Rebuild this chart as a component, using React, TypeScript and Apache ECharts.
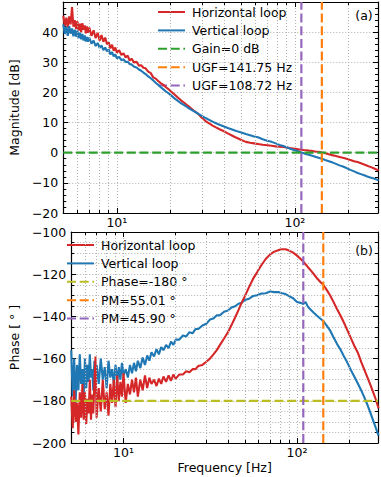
import React, { useEffect, useRef } from "react";
import * as echarts from "echarts";

// ---------------- data ----------------
const freq = [
  5.0, 5.1, 5.2, 5.3, 5.4, 5.5, 5.6, 5.7, 5.8, 5.9,
  6.0, 6.1, 6.2, 6.3, 6.4, 6.5, 6.6, 6.7, 6.8, 6.9,
  7.0, 7.2, 7.4, 7.6, 7.8, 8.0, 8.2, 8.4, 8.6, 8.8,
  9.0, 9.2, 9.4, 9.6, 9.8, 10, 10.3, 10.6, 10.9, 11.2,
  11.5, 11.8, 12.1, 12.5, 12.9, 13.3, 13.7, 14.1, 14.5, 15,
  15.5, 16, 16.5, 17, 17.6, 18.2, 18.8, 19.4, 20, 21,
  22, 23, 24, 25, 26, 27, 28.5, 30, 31.5, 33,
  34.5, 36, 38, 40, 42, 44, 46, 48, 50, 53,
  56, 59, 62, 66, 70, 74, 78, 82, 86, 90,
  95, 100, 105, 108.72, 112, 116, 120, 125, 130, 136,
  141.75, 148, 155, 162, 170, 178, 186, 195, 205, 215,
  225, 235, 245, 255, 265, 275, 285, 295,
];

const magHorizontal = [
  45.5, 42.0, 44.8, 41.5, 45.2, 42.6, 48.3, 41.8, 44.0, 41.0,
  43.6, 40.5, 42.8, 40.0, 43.0, 40.8, 42.2, 39.6, 41.9, 39.8,
  41.5, 38.8, 40.6, 38.0, 39.8, 37.2, 39.0, 36.8, 38.2, 36.0,
  36.6, 34.6, 35.8, 33.8, 34.9, 33.2, 34.0, 32.4, 33.0, 31.6,
  32.2, 30.6, 31.2, 29.9, 30.2, 28.9, 29.0, 28.2, 28.0, 26.9,
  26.4, 25.0, 24.6, 23.9, 23.1, 22.6, 21.8, 21.2, 20.5, 19.4,
  18.3, 17.3, 16.5, 15.6, 14.8, 14.0, 13.0, 11.6, 10.5, 9.7,
  9.0, 8.4, 7.7, 7.1, 6.4, 5.8, 5.2, 4.7, 4.2, 3.6,
  3.3, 3.1, 2.9, 2.65, 2.5, 2.3, 2.1, 2.0, 1.9, 1.7,
  1.5, 1.3, 1.1, 1.0, 0.9, 0.8, 0.7, 0.6, 0.4, 0.3,
  0.1, -0.2, -0.5, -0.8, -1.1, -1.4, -1.7, -2.0, -2.4, -2.8,
  -3.1, -3.5, -3.9, -4.3, -4.7, -5.1, -5.5, -5.9,
];

const magVertical = [
  42.6, 39.4, 41.8, 38.8, 42.0, 39.5, 41.2, 38.6, 40.8, 38.5,
  40.5, 38.0, 39.8, 37.6, 39.4, 37.2, 38.9, 36.9, 38.4, 36.8,
  38.2, 36.2, 37.2, 35.4, 36.4, 34.8, 35.6, 34.0, 34.9, 33.6,
  34.3, 32.6, 33.4, 32.0, 32.6, 31.3, 31.8, 30.7, 31.0, 30.1,
  30.2, 29.4, 29.3, 28.5, 28.3, 27.6, 27.2, 26.6, 26.1, 25.3,
  24.7, 24.0, 23.2, 22.6, 21.8, 21.1, 20.4, 19.8, 19.2, 18.1,
  17.2, 16.4, 15.7, 15.0, 14.4, 13.8, 13.0, 12.2, 11.5, 10.9,
  10.3, 9.8, 9.2, 8.7, 8.2, 7.8, 7.4, 7.0, 6.7, 6.2,
  5.8, 5.4, 5.1, 4.5, 4.0, 3.6, 3.1, 2.6, 2.2, 1.8,
  1.2, 0.8, 0.4, 0.1, -0.2, -0.5, -0.7, -1.0, -1.3, -1.7,
  -2.0, -2.4, -2.8, -3.2, -3.7, -4.2, -4.6, -5.1, -5.7, -6.2,
  -6.7, -7.1, -7.5, -7.9, -8.2, -8.5, -8.8, -9.1,
];

const phaseHorizontal = [
  -178, -193, -175, -190, -181, -196, -176, -188, -172, -189,
  -176, -191, -179, -186, -170, -189, -177, -186, -171, -159,
  -188, -174, -185, -170, -184, -176, -187, -172, -181, -170,
  -183, -168, -180, -171, -178, -167, -181, -172, -177, -170,
  -176, -169, -178, -170, -175, -168, -174, -169, -172, -170,
  -173, -169.5, -172, -168.5, -171, -168, -170.5, -167.5, -169.5, -167.5,
  -167.5, -166, -166.5, -165, -165, -163.5, -163, -161.5, -160, -158,
  -156, -153.5, -150.5, -147.5, -144, -140.5, -137, -133.5, -130.5, -126,
  -122, -119, -116, -112.8, -110.6, -109.3, -108.6, -108.2, -108.2, -108.8,
  -109.8, -111.2, -112.8, -114, -115.3, -116.8, -118.2, -120, -121.8, -123.6,
  -125, -127.3, -130, -133, -136.5, -139.6, -142.8, -146.5, -150.5, -154.3,
  -157.5, -161.8, -165.5, -169, -172.5, -176, -179.5, -183.5,
];

const phaseVertical = [
  -156, -178, -160, -181, -163, -175, -158, -172, -165, -177,
  -160, -174, -163, -171, -158, -169, -165, -175, -161, -170,
  -163, -172, -160, -170, -164, -174, -161, -169, -165, -172,
  -163, -171, -164, -170, -162, -168, -165, -169, -163, -167,
  -162, -166, -161, -164.5, -159.5, -163, -158.5, -161, -157, -159,
  -155.5, -158, -154.5, -156, -153.5, -155, -152, -153.5, -151, -151,
  -149, -149.5, -147.5, -148, -146, -146, -144.3, -143.5, -141.5, -141,
  -139.5, -139.4, -137.8, -137.2, -135.8, -135.2, -134, -133.5, -132.2, -131.6,
  -130.3, -130, -129.2, -129, -128.2, -128.5, -128.4, -129, -129.4, -130.4,
  -131.4, -133.2, -133.6, -134.1, -133.2, -135.6, -136.8, -138.3, -139.6, -141,
  -142.2, -144.3, -146.6, -149.8, -153, -155.7, -158.8, -161.9, -165.6, -168.8,
  -172, -175.2, -178.6, -182, -185.7, -189.4, -193, -196.5,
];

const minorFreqTicks = [6, 7, 8, 9, 20, 30, 40, 50, 60, 70, 80, 90, 200];
const freqRange = [5, 293];
const magRange = [-20, 50];
const phaseRange = [-200, -100];
const magInterval = 10;
const phaseInterval = 20;
const gainRef = 0;
const phaseRef = -180;
const ugfHorizontal = 141.75;
const ugfVertical = 108.72;

const topLegend = ["Horizontal loop", "Vertical loop", "Gain=0 dB", "UGF=141.75 Hz", "UGF=108.72 Hz"];
const bottomLegend = ["Horizontal loop", "Vertical loop", "Phase=-180 °", "PM=55.01 °", "PM=45.90 °"];

// ---------------- styles ----------------
const FONT = "DejaVu Sans";
const FS = 12.5;
const RED = "#d62728";
const BLUE = "#1f77b4";
const GREEN = "#2ca02c";
const ORANGE = "#ff7f0e";
const PURPLE = "#9467bd";
const OLIVE = "#bcbd22";
const GRID = "#b0b0b0";
const DASH = [9, 3.7];
const GRID_DASH = [1, 2];

const fmtY = (v: number) => String(v).replace("-", "\u2212");
const fmtX = (v: number) => {
  const l = Math.log10(v);
  const e = Math.round(l);
  if (Math.abs(l - e) < 1e-6) {
    if (e === 1) return "10\u00b9";
    if (e === 2) return "10\u00b2";
  }
  return "";
};

const zip = (ys: number[]) => freq.map((f, i) => [f, ys[i]]);

function xAxisBottom(gridIndex: number, name: string) {
  return {
    type: "log",
    logBase: 10,
    gridIndex,
    position: "bottom",
    min: freqRange[0],
    max: freqRange[1],
    z: 3,
    axisLine: { show: true, onZero: false, lineStyle: { color: "#000", width: 1.2 } },
    axisTick: { show: true, inside: true, length: 5, lineStyle: { color: "#000", width: 1 } },
    axisLabel: { show: true, margin: 3, formatter: fmtX, color: "#000", fontFamily: FONT, fontSize: FS },
    splitLine: { show: true, showMinLine: false, showMaxLine: false, lineStyle: { color: GRID, width: 1, type: GRID_DASH } },
    minorTick: { show: false },
    minorSplitLine: { show: false },
    name,
    nameLocation: "middle",
    nameGap: 18,
    nameTextStyle: { color: "#000", fontFamily: FONT, fontSize: FS },
  };
}

function xAxisTop(gridIndex: number) {
  return {
    type: "log",
    logBase: 10,
    gridIndex,
    position: "top",
    min: freqRange[0],
    max: freqRange[1],
    z: 3,
    axisLine: { show: true, onZero: false, lineStyle: { color: "#000", width: 1.2 } },
    axisTick: { show: true, inside: true, length: 5, lineStyle: { color: "#000", width: 1 } },
    axisLabel: { show: false },
    splitLine: { show: false },
  };
}

function yAxisLeft(gridIndex: number, range: number[], interval: number, minorSplit: number, minorGrid: boolean, name: string) {
  return {
    type: "value",
    gridIndex,
    position: "left",
    min: range[0],
    max: range[1],
    interval,
    z: 3,
    axisLine: { show: true, onZero: false, lineStyle: { color: "#000", width: 1.2 } },
    axisTick: { show: true, inside: true, length: 5, lineStyle: { color: "#000", width: 1 } },
    minorTick: { show: true, splitNumber: minorSplit, length: 3, lineStyle: { color: "#000", width: 1 } },
    axisLabel: {
      show: true,
      margin: 5,
      formatter: fmtY,
      color: "#000",
      fontFamily: FONT,
      fontSize: FS,
      showMaxLabel: range[1] === -100,
    },
    splitLine: { show: true, showMinLine: false, showMaxLine: false, lineStyle: { color: GRID, width: 1, type: GRID_DASH } },
    minorSplitLine: { show: minorGrid, lineStyle: { color: GRID, width: 1, type: GRID_DASH } },
    name,
    nameLocation: "middle",
    nameGap: 26,
    nameRotate: 90,
    nameTextStyle: { color: "#000", fontFamily: FONT, fontSize: FS },
  };
}

function yAxisRight(gridIndex: number, range: number[], interval: number, minorSplit: number) {
  return {
    type: "value",
    gridIndex,
    position: "right",
    min: range[0],
    max: range[1],
    interval,
    z: 3,
    axisLine: { show: true, onZero: false, lineStyle: { color: "#000", width: 1.2 } },
    axisTick: { show: true, inside: true, length: 5, lineStyle: { color: "#000", width: 1 } },
    minorTick: { show: true, splitNumber: minorSplit, length: 3, lineStyle: { color: "#000", width: 1 } },
    axisLabel: { show: false },
    splitLine: { show: false },
  };
}

function curve(name: string, color: string, xi: number, yi: number, ys: number[]) {
  return {
    name,
    type: "line",
    xAxisIndex: xi,
    yAxisIndex: yi,
    data: zip(ys),
    symbol: "none",
    showSymbol: false,
    lineStyle: { color, width: 2.1 },
    itemStyle: { color, opacity: 0 },
    z: 4,
  };
}

function refLine(name: string, color: string, xi: number, yi: number, data: number[][]) {
  return {
    name,
    type: "line",
    xAxisIndex: xi,
    yAxisIndex: yi,
    data,
    symbol: "none",
    showSymbol: false,
    lineStyle: { color, width: 2.2, type: DASH },
    itemStyle: { color, opacity: 0 },
    z: 5,
  };
}

function minorLines(xi: number, yi: number, range: number[]) {
  const t = ((range[1] - range[0]) * 3) / 211;
  return [
    {
      type: "line",
      xAxisIndex: xi,
      yAxisIndex: yi,
      data: [[freqRange[0], range[0]]],
      symbol: "none",
      silent: true,
      lineStyle: { opacity: 0 },
      z: 1,
      markLine: {
        silent: true,
        symbol: ["none", "none"],
        label: { show: false },
        lineStyle: { color: GRID, width: 1, type: GRID_DASH },
        emphasis: { disabled: true },
        data: minorFreqTicks.map((f) => ({ xAxis: f })),
      },
    },
    {
      type: "line",
      xAxisIndex: xi,
      yAxisIndex: yi,
      data: [[freqRange[0], range[0]]],
      symbol: "none",
      silent: true,
      lineStyle: { opacity: 0 },
      z: 6,
      markLine: {
        silent: true,
        symbol: ["none", "none"],
        label: { show: false },
        lineStyle: { color: "#000", width: 1, type: "solid" },
        emphasis: { disabled: true },
        data: minorFreqTicks.flatMap((f) => [
          [{ coord: [f, range[0]] }, { coord: [f, range[0] + t] }],
          [{ coord: [f, range[1]] }, { coord: [f, range[1] - t] }],
        ]),
      },
    },
  ];
}

function legendCfg(data: string[], left: number, top: number) {
  return {
    data,
    left,
    top,
    orient: "vertical",
    itemWidth: 27,
    itemHeight: 14,
    itemGap: 4.4,
    selectedMode: false,
    padding: 0,
    itemStyle: { opacity: 0 },
    textStyle: { color: "#000", fontFamily: FONT, fontSize: FS, lineHeight: 14, padding: [0, 0, 0, 2] },
  };
}

export default function App() {
  const ref = useRef<HTMLDivElement>(null);
  useEffect(() => {
    if (!ref.current) return;
    const chart = echarts.init(ref.current, undefined, { renderer: "svg" });
    const option: any = {
      animation: false,
      backgroundColor: "#fff",
      textStyle: { fontFamily: FONT },
      grid: [
        { left: 55, top: 2, width: 323, height: 211, containLabel: false },
        { left: 55, top: 232, width: 323, height: 211, containLabel: false },
      ],
      xAxis: [xAxisBottom(0, ""), xAxisTop(0), xAxisBottom(1, "Frequency [Hz]"), xAxisTop(1)],
      yAxis: [
        yAxisLeft(0, magRange, magInterval, 5, false, "Magnitude [dB]"),
        yAxisRight(0, magRange, magInterval, 5),
        yAxisLeft(1, phaseRange, phaseInterval, 4, true, "Phase [ ° ]"),
        yAxisRight(1, phaseRange, phaseInterval, 4),
      ],
      legend: [legendCfg(topLegend, 157, 5), legendCfg(bottomLegend, 66, 238)],
      series: [
        ...minorLines(0, 0, magRange),
        ...minorLines(2, 2, phaseRange),
        curve(topLegend[0], RED, 0, 0, magHorizontal),
        curve(topLegend[1], BLUE, 0, 0, magVertical),
        refLine(topLegend[2], GREEN, 0, 0, [[freqRange[0], gainRef], [freqRange[1], gainRef]]),
        refLine(topLegend[3], ORANGE, 0, 0, [[ugfHorizontal, magRange[0]], [ugfHorizontal, magRange[1]]]),
        refLine(topLegend[4], PURPLE, 0, 0, [[ugfVertical, magRange[0]], [ugfVertical, magRange[1]]]),
        curve(bottomLegend[1], BLUE, 2, 2, phaseVertical),
        curve(bottomLegend[0], RED, 2, 2, phaseHorizontal),
        refLine(bottomLegend[2], OLIVE, 2, 2, [[freqRange[0], phaseRef], [freqRange[1], phaseRef]]),
        refLine(bottomLegend[3], ORANGE, 2, 2, [[ugfHorizontal, phaseRange[0]], [ugfHorizontal, phaseRange[1]]]),
        refLine(bottomLegend[4], PURPLE, 2, 2, [[ugfVertical, phaseRange[0]], [ugfVertical, phaseRange[1]]]),
      ],
      graphic: [
        { type: "text", x: 364, y: 15, style: { text: "(a)", fill: "#000", font: `${FS}px "${FONT}"`, textAlign: "center", textVerticalAlign: "middle" } },
        { type: "text", x: 364, y: 250, style: { text: "(b)", fill: "#000", font: `${FS}px "${FONT}"`, textAlign: "center", textVerticalAlign: "middle" } },
      ],
    };
    chart.setOption(option);
    return () => chart.dispose();
  }, []);
  return <div ref={ref} style={{ position: "fixed", left: 0, top: 0, width: 381, height: 477 }} />;
}
